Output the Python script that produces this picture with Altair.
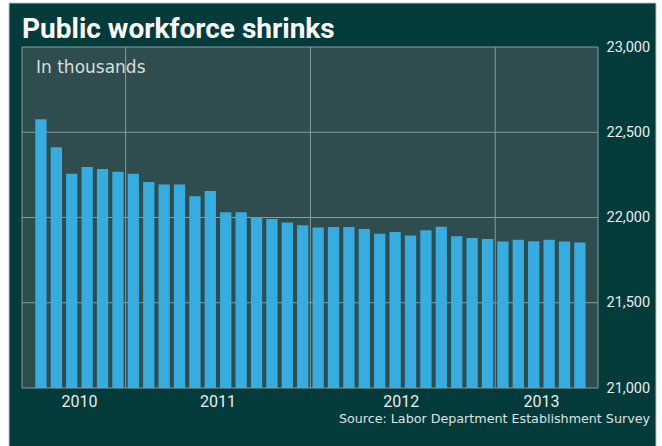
import altair as alt
import pandas as pd

# Monthly public-sector employment (thousands)
values = [22576, 22412, 22257, 22296, 22285, 22269, 22257, 22208, 22193, 22193, 22124, 22155,
          22031, 22031, 22003, 21991, 21970, 21954, 21941, 21944, 21944, 21933, 21905, 21915,
          21894, 21925, 21946, 21890, 21880, 21874, 21859, 21870, 21860, 21870, 21859, 21853]
month_index = list(range(len(values)))
year_labels = ["2010", "2011", "2012", "2013"]
year_label_pos = [2.5, 11.5, 23.4, 32.5]
year_grid_pos = [5.5, 17.5, 29.5]
y_ticks = [21000, 21500, 22000, 22500, 23000]
y_grid = [21500, 22000, 22500]

TITLE = "Public workforce shrinks"
SUBTITLE = "In thousands"
SOURCE = "Source: Labor Department Establishment Survey"

W, H = 576, 341
HEAD = "Roboto"
DARK = "#033b3b"
PLOT_BG = "#2f4d4e"
BAR = "#36ace0"
GRID = "#8c9b9b"
LABEL = "#e8eded"

bars_df = pd.DataFrame({"i": month_index, "v": values})
labels_df = pd.DataFrame({"i": year_label_pos, "label": year_labels})
vgrid_df = pd.DataFrame({"i": year_grid_pos})
hgrid_df = pd.DataFrame({"v": y_grid})
one = alt.Data(values=[{}])

xscale = alt.Scale(domain=[-0.906, 35.85], nice=False, zero=False)
yscale = alt.Scale(domain=[21000, 23000], nice=False, zero=False)

yaxis = alt.Axis(
    orient="right", values=y_ticks, format=",d", title=None, domain=False, ticks=False,
    grid=False, labelFont=HEAD, labelFontSize=14.5, labelColor=LABEL, labelAlign="left",
    labelPadding=8, labelFlush=False, labelOverlap=False, labelBaseline="middle", zindex=2)

frame = alt.Chart(one).mark_rect(fill=DARK, stroke="#b9c2c2", strokeWidth=1).encode(
    x=alt.value(-13), x2=alt.value(634), y=alt.value(-44), y2=alt.value(402)
)
plot_bg = alt.Chart(one).mark_rect(fill=PLOT_BG).encode(
    x=alt.value(0), x2=alt.value(W), y=alt.value(0), y2=alt.value(H)
)
hgrid = alt.Chart(hgrid_df).mark_rule(color=GRID, strokeWidth=1).encode(
    y=alt.Y("v:Q", scale=yscale, axis=yaxis),
    x=alt.value(0), x2=alt.value(W)
)
vgrid = alt.Chart(vgrid_df).mark_rule(color=GRID, strokeWidth=1).encode(
    x=alt.X("i:Q", scale=xscale, axis=None),
    y=alt.value(0), y2=alt.value(H)
)
bars = alt.Chart(bars_df).mark_bar(color=BAR, width=11.3).encode(
    x=alt.X("i:Q", scale=xscale, axis=None),
    y=alt.Y("v:Q", scale=yscale, axis=yaxis),
    y2=alt.datum(21000)
)
border = alt.Chart(one).mark_rect(fill=None, stroke=GRID, strokeWidth=1).encode(
    x=alt.value(0), x2=alt.value(W), y=alt.value(0), y2=alt.value(H)
)
xlabels = alt.Chart(labels_df).mark_text(
    font=HEAD, fontSize=16, color=LABEL, baseline="middle", align="center"
).encode(
    x=alt.X("i:Q", scale=xscale, axis=None),
    y=alt.value(H + 14),
    text="label:N"
)
title = alt.Chart(one).mark_text(
    text=TITLE, font=HEAD, fontSize=28, fontWeight="bold", color="#ffffff",
    align="left", baseline="alphabetic"
).encode(x=alt.value(0), y=alt.value(-9))
subtitle = alt.Chart(one).mark_text(
    text=SUBTITLE, font="DejaVu Sans", fontSize=17, color="#d7dede",
    align="left", baseline="middle"
).encode(x=alt.value(14), y=alt.value(21))
source = alt.Chart(one).mark_text(
    text=SOURCE, font="DejaVu Sans", fontSize=12.7, color="#dfe3e3",
    align="right", baseline="middle"
).encode(x=alt.value(628), y=alt.value(372))

chart = alt.layer(
    frame, plot_bg, hgrid, vgrid, bars, border, xlabels, title, subtitle, source
).resolve_axis(y="shared").properties(
    width=W, height=H,
    background="white",
    padding={"left": 22, "top": 47, "right": 64, "bottom": 58},
    autosize=alt.AutoSizeParams(type="none"),
).configure_view(strokeWidth=0)

chart.save("out.html", embed_options={"renderer": "svg", "actions": False})
